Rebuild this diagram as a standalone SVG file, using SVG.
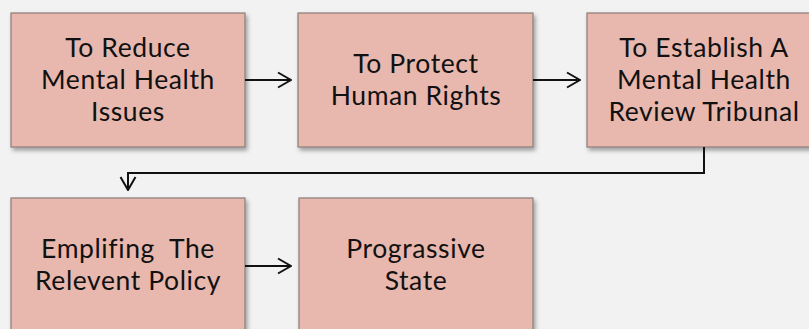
<svg xmlns="http://www.w3.org/2000/svg" width="809" height="329" viewBox="0 0 809 329">
  <defs>
    <filter id="shadow" x="-10%" y="-10%" width="130%" height="130%">
      <feDropShadow dx="2" dy="3" stdDeviation="2" flood-color="#000" flood-opacity="0.35"/>
    </filter>
    <marker id="arrow" viewBox="0 0 16 18" refX="15" refY="9" markerWidth="16" markerHeight="18" markerUnits="userSpaceOnUse" orient="auto">
      <path d="M2,1.5 L15,9 L2,16.5" fill="none" stroke="#111" stroke-width="2"/>
    </marker>
  </defs>
  <style>
    .box { fill: #e8b7ad; stroke: #8c7c7a; stroke-width: 1.2; filter: url(#shadow); }
    .label { font-family: Lato, "Open Sans", sans-serif; font-size: 26.5px; letter-spacing: 0.6px; fill: #111; text-anchor: middle; }
    .conn { fill: none; stroke: #111; stroke-width: 2; marker-end: url(#arrow); }
  </style>
  <rect width="809" height="329" fill="#f2f2f2"/>

  <g id="node-reduce">
    <rect class="box" x="11" y="13" width="234" height="134"/>
    <text class="label" x="128" y="57">To Reduce</text>
    <text class="label" x="128" y="89">Mental Health</text>
    <text class="label" x="128" y="121">Issues</text>
  </g>

  <g id="node-protect">
    <rect class="box" x="298" y="13" width="235" height="134"/>
    <text class="label" x="416" y="73">To Protect</text>
    <text class="label" x="416" y="105">Human Rights</text>
  </g>

  <g id="node-tribunal">
    <rect class="box" x="587" y="13" width="234" height="134"/>
    <text class="label" x="704" y="57">To Establish A</text>
    <text class="label" x="704" y="89">Mental Health</text>
    <text class="label" x="704" y="121">Review Tribunal</text>
  </g>

  <g id="node-policy">
    <rect class="box" x="11" y="198" width="234" height="134"/>
    <text class="label" x="128" y="258" xml:space="preserve">Emplifing  The</text>
    <text class="label" x="128" y="290">Relevent Policy</text>
  </g>

  <g id="node-state">
    <rect class="box" x="299" y="198" width="234" height="134"/>
    <text class="label" x="416" y="258">Prograssive</text>
    <text class="label" x="416" y="290">State</text>
  </g>

  <g id="connectors">
    <path class="conn" d="M245,80 L291,80"/>
    <path class="conn" d="M533,80 L580,80"/>
    <path class="conn" d="M704,147 L704,173 L128,173 L128,190"/>
    <path class="conn" d="M245,266 L291,266"/>
  </g>
</svg>
